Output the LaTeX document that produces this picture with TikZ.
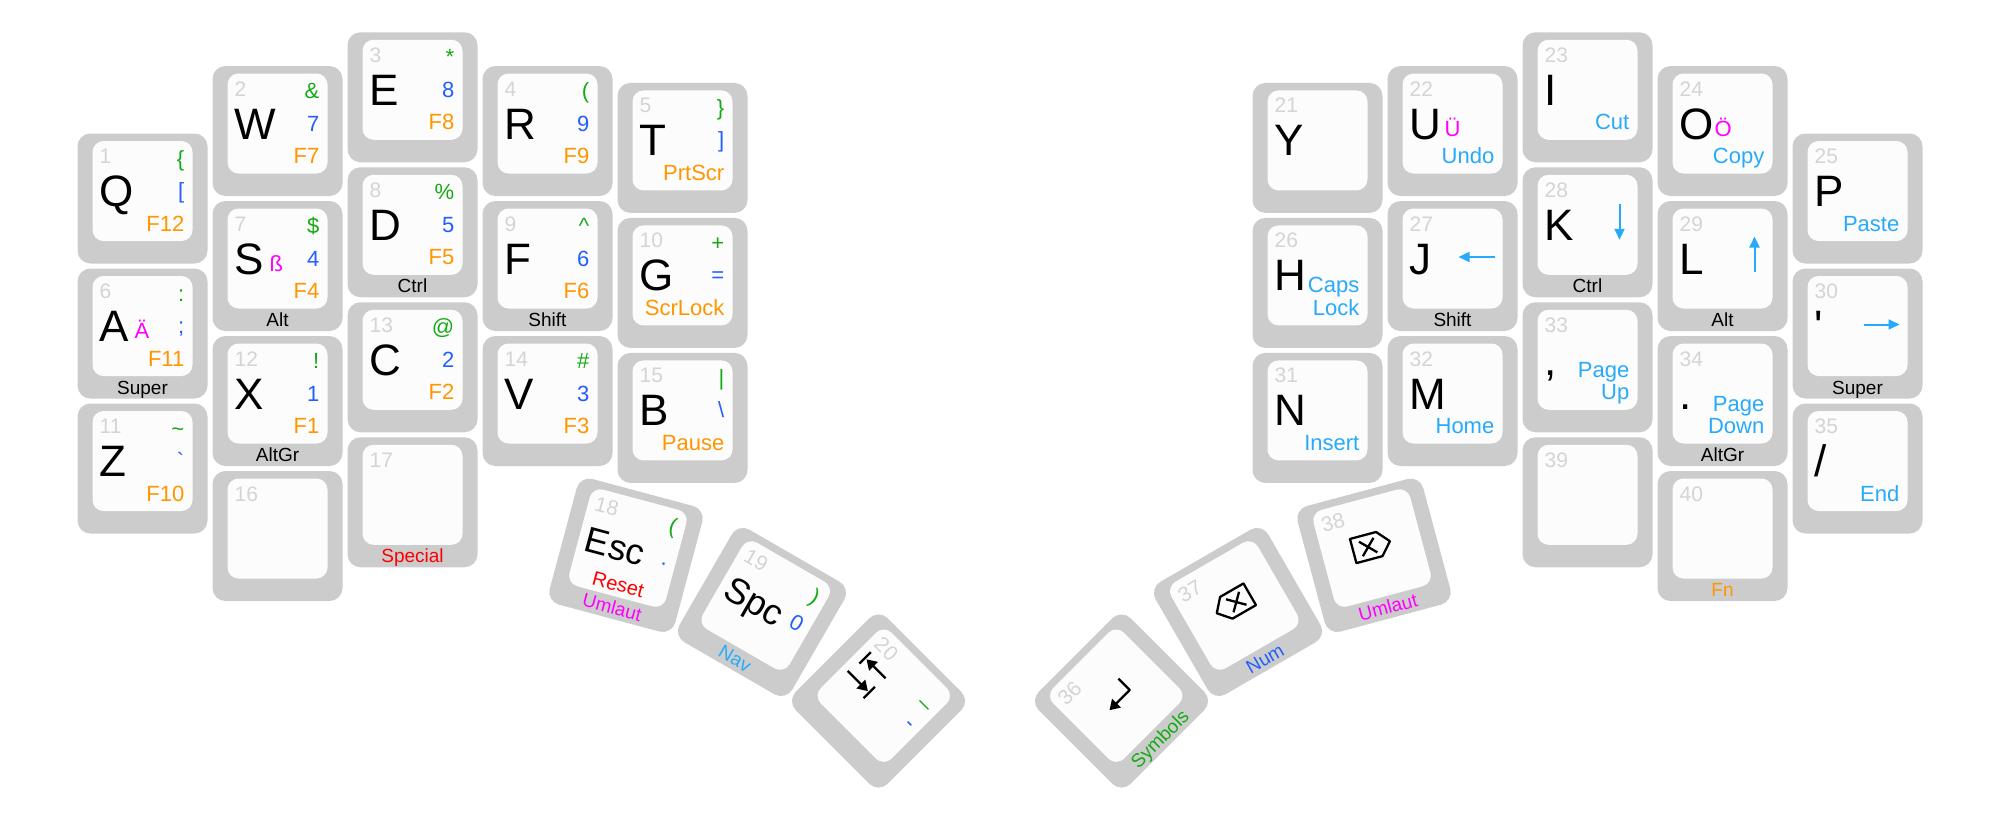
\documentclass[tikz,border=0pt]{standalone}
\usepackage{fontspec}
\setmainfont{Liberation Sans}[Ligatures=TeXOff]
\usetikzlibrary{arrows.meta}
\definecolor{capouter}{RGB}{204,204,204}
\definecolor{capinner}{RGB}{252,252,252}
\definecolor{numgray}{RGB}{212,212,212}
\definecolor{lgreen}{RGB}{20,170,20}
\definecolor{lblue}{RGB}{35,95,255}
\definecolor{lorange}{RGB}{255,150,0}
\definecolor{lnav}{RGB}{40,170,250}
\definecolor{lmag}{RGB}{255,0,255}
\definecolor{lred}{RGB}{255,0,0}
\tikzset{
  outerkey/.style={rectangle, fill=capouter, minimum width=130pt, minimum height=130pt, inner sep=0pt, rounded corners=13pt},
  innerkey/.style={rectangle, fill=capinner, minimum width=100pt, minimum height=100pt, inner sep=0pt, rounded corners=11pt},
  numtxt/.style={inner sep=0pt, text=numgray, font=\fontsize{21}{21}\selectfont, anchor=base west},
  maintxt/.style={inner sep=0pt, text=black, font=\fontsize{44}{44}\selectfont, anchor=base west},
  thumbtxt/.style={inner sep=0pt, text=black, font=\fontsize{36}{36}\selectfont, anchor=base west},
  sidetxt/.style={inner sep=0pt, font=\fontsize{22}{22}\selectfont, anchor=base east},
  alttxt/.style={inner sep=0pt, text=lmag, font=\fontsize{22}{22}\selectfont, anchor=base west},
  holdtxt/.style={inner sep=0pt, font=\fontsize{19}{19}\selectfont, anchor=base},
  navarrow/.style={draw=lnav, line width=2pt, -{Triangle[length=11pt,width=10pt]}},
  iconline/.style={draw=black, line width=2.3pt, line join=round},
  icontip/.style={-{Triangle[length=10pt,width=12pt]}},
}
\newcommand\keystart[4]{%
  \def\kn{#1}%
  \begin{scope}[shift={(#2,#3)},rotate=#4,transform shape]
  \node[outerkey] (#1) at (0,0) {};
  \node[innerkey] (#1-cap) at (0,-7.5) {};
}
\newcommand\keystop{\end{scope}}
\newcommand\knum[1]{\node[numtxt] (\kn-num) at (-43,-35) {#1};}
\newcommand\kmain[1]{\node[maintxt] (\kn-main) at (-43,8) {#1};}
\newcommand\kthumb[1]{\node[thumbtxt] (\kn-main) at (-43,7) {#1};}
\newcommand\ktop[2]{\node[sidetxt,text=#1] (\kn-top) at (42,-32.5) {#2};}
\newcommand\kmid[2]{\node[sidetxt,text=#1] (\kn-mid) at (42,0) {#2};}
\newcommand\kbot[2]{\node[sidetxt,text=#1] (\kn-bot) at (42,32.5) {#2};}
\newcommand\ktwo[3]{\node[sidetxt,text=#1] (\kn-bota) at (42,10) {#2};\node[sidetxt,text=#1] (\kn-botb) at (42,32.5) {#3};}
\newcommand\khold[2]{\node[holdtxt,text=#1] (\kn-hold) at (0,60.5) {#2};}
\newcommand\kalt[1]{\node[alttxt] (\kn-alt) at (-8,5) {#1};}
\begin{document}
\begin{tikzpicture}[x=1pt,y=-1pt]
\useasboundingbox (0,0) rectangle (2000,820);
\fill[white] (0,0) rectangle (2000,820);

% ---------------- left half ----------------
\keystart{k1}{142.5}{198.5}{0}\knum{1}\kmain{Q}\ktop{lgreen}{\{}\kmid{lblue}{[}\kbot{lorange}{F12}\keystop
\keystart{k2}{277.5}{131}{0}\knum{2}\kmain{W}\ktop{lgreen}{\&}\kmid{lblue}{7}\kbot{lorange}{F7}\keystop
\keystart{k3}{412.5}{97.25}{0}\knum{3}\kmain{E}\ktop{lgreen}{*}\kmid{lblue}{8}\kbot{lorange}{F8}\keystop
\keystart{k4}{547.5}{131}{0}\knum{4}\kmain{R}\ktop{lgreen}{(}\kmid{lblue}{9}\kbot{lorange}{F9}\keystop
\keystart{k5}{682.5}{147.9}{0}\knum{5}\kmain{T}\ktop{lgreen}{\}}\kmid{lblue}{]}\kbot{lorange}{PrtScr}\keystop
\keystart{k6}{142.5}{333.5}{0}\knum{6}\kmain{A}\kalt{Ä}\ktop{lgreen}{:}\kmid{lblue}{;}\kbot{lorange}{F11}\khold{black}{Super}\keystop
\keystart{k7}{277.5}{266}{0}\knum{7}\kmain{S}\kalt{ß}\ktop{lgreen}{\$}\kmid{lblue}{4}\kbot{lorange}{F4}\khold{black}{Alt}\keystop
\keystart{k8}{412.5}{232.25}{0}\knum{8}\kmain{D}\ktop{lgreen}{\%}\kmid{lblue}{5}\kbot{lorange}{F5}\khold{black}{Ctrl}\keystop
\keystart{k9}{547.5}{266}{0}\knum{9}\kmain{F}\ktop{lgreen}{\textasciicircum}\kmid{lblue}{6}\kbot{lorange}{F6}\khold{black}{Shift}\keystop
\keystart{k10}{682.5}{282.9}{0}\knum{10}\kmain{G}\ktop{lgreen}{+}\kmid{lblue}{=}\kbot{lorange}{ScrLock}\keystop
\keystart{k11}{142.5}{468.5}{0}\knum{11}\kmain{Z}\ktop{lgreen}{\textasciitilde}\kmid{lblue}{`}\kbot{lorange}{F10}\keystop
\keystart{k12}{277.5}{401}{0}\knum{12}\kmain{X}\ktop{lgreen}{!}\kmid{lblue}{1}\kbot{lorange}{F1}\khold{black}{AltGr}\keystop
\keystart{k13}{412.5}{367.25}{0}\knum{13}\kmain{C}\ktop{lgreen}{@}\kmid{lblue}{2}\kbot{lorange}{F2}\keystop
\keystart{k14}{547.5}{401}{0}\knum{14}\kmain{V}\ktop{lgreen}{\#}\kmid{lblue}{3}\kbot{lorange}{F3}\keystop
\keystart{k15}{682.5}{417.9}{0}\knum{15}\kmain{B}\ktop{lgreen}{|}\kmid{lblue}{\textbackslash}\kbot{lorange}{Pause}\keystop
\keystart{k16}{277.5}{536}{0}\knum{16}\keystop
\keystart{k17}{412.5}{502.25}{0}\knum{17}\khold{lred}{Special}\keystop
% left thumbs
\keystart{k18}{626}{555.3}{-15}\knum{18}\kthumb{Esc}\ktop{lgreen}{(}\kmid{lblue}{.}
  \node[inner sep=0pt, text=lred, font=\fontsize{20}{20}\selectfont, anchor=base] (k18-reset) at (0,37) {Reset};
  \khold{lmag}{Umlaut}\keystop
\keystart{k19}{762}{612}{-30}\knum{19}\kthumb{Spc}\ktop{lgreen}{)}\kmid{lblue}{0}\khold{lnav}{Nav}\keystop
\keystart{k20}{878.5}{701}{-45}\knum{20}\ktop{lgreen}{\_}\kmid{lblue}{-}
  \draw[iconline] (-40,-29) -- (-40,-13);
  \draw[iconline,icontip] (-11,-21) -- (-38,-21);
  \draw[iconline] (-12.6,-7.5) -- (-12.6,8.5);
  \draw[iconline,icontip] (-43,0.5) -- (-14.5,0.5);
\keystop

% ---------------- right half ----------------
\keystart{k21}{1317.5}{147.9}{0}\knum{21}\kmain{Y}\keystop
\keystart{k22}{1452.5}{131}{0}\knum{22}\kmain{U}\kalt{Ü}\kbot{lnav}{Undo}\keystop
\keystart{k23}{1587.5}{97.25}{0}\knum{23}\kmain{I}\kbot{lnav}{Cut}\keystop
\keystart{k24}{1722.5}{131}{0}\knum{24}\kmain{O}\kalt{Ö}\kbot{lnav}{Copy}\keystop
\keystart{k25}{1857.5}{198.5}{0}\knum{25}\kmain{P}\kbot{lnav}{Paste}\keystop
\keystart{k26}{1317.5}{282.9}{0}\knum{26}\kmain{H}\ktwo{lnav}{Caps}{Lock}\keystop
\keystart{k27}{1452.5}{266}{0}\knum{27}\kmain{J}\draw[navarrow] (42,-9) -- (6,-9);\khold{black}{Shift}\keystop
\keystart{k28}{1587.5}{232.25}{0}\knum{28}\kmain{K}\draw[navarrow] (32,-28) -- (32,7.5);\khold{black}{Ctrl}\keystop
\keystart{k29}{1722.5}{266}{0}\knum{29}\kmain{L}\draw[navarrow] (32,6) -- (32,-29.5);\khold{black}{Alt}\keystop
\keystart{k30}{1857.5}{333.5}{0}\knum{30}\kmain{'}\draw[navarrow] (6,-9) -- (42,-9);\khold{black}{Super}\keystop
\keystart{k31}{1317.5}{417.9}{0}\knum{31}\kmain{N}\kbot{lnav}{Insert}\keystop
\keystart{k32}{1452.5}{401}{0}\knum{32}\kmain{M}\kbot{lnav}{Home}\keystop
\keystart{k33}{1587.5}{367.25}{0}\knum{33}\kmain{,}\ktwo{lnav}{Page}{Up}\keystop
\keystart{k34}{1722.5}{401}{0}\knum{34}\kmain{.}\ktwo{lnav}{Page}{Down}\khold{black}{AltGr}\keystop
\keystart{k35}{1857.5}{468.5}{0}\knum{35}\kmain{/}\kbot{lnav}{End}\keystop
\keystart{k39}{1587.5}{502.25}{0}\knum{39}\keystop
\keystart{k40}{1722.5}{536}{0}\knum{40}\khold{lorange}{Fn}\keystop
% right thumbs
\keystart{k36}{1121.5}{701}{45}\knum{36}
  \draw[iconline,icontip] (13.6,-18) -- (13.6,-2) -- (-15,-2);
  \khold{lgreen}{Symbols}\keystop
\keystart{k37}{1238}{612}{30}\knum{37}
  \draw[iconline] (-19,-9.5) -- (-8,-22) -- (19,-22) -- (19,3) -- (-8,3) -- cycle;
  \draw[iconline] (-4,-17) -- (11,-2) (-4,-2) -- (11,-17);
  \khold{lblue}{Num}\keystop
\keystart{k38}{1374}{555.3}{15}\knum{38}
  \draw[iconline] (-19,-22) -- (8,-22) -- (19,-9.5) -- (8,3) -- (-19,3) -- cycle;
  \draw[iconline] (-11,-17) -- (4,-2) (-11,-2) -- (4,-17);
  \khold{lmag}{Umlaut}\keystop
\end{tikzpicture}
\end{document}
